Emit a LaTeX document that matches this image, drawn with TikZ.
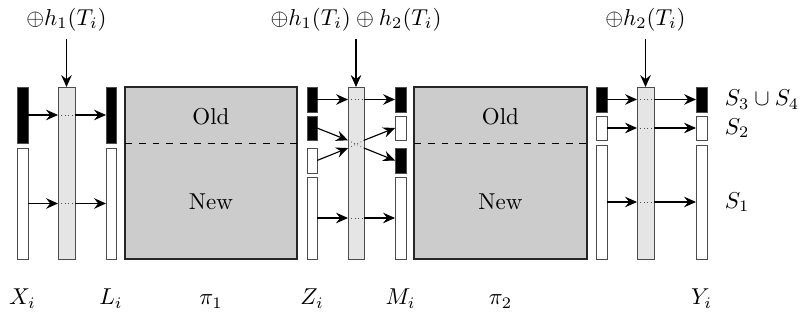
\documentclass[tikz,border=0pt]{standalone}
\usetikzlibrary{positioning,fit,arrows.meta,calc}

\begin{document}
\begin{tikzpicture}[
    x=0.153mm,
    y=-0.153mm,
    seg/.style={draw=black!70, inner sep=0pt, outer sep=0pt},
    on/.style={seg, fill=black},
    off/.style={seg, fill=white},
    hash/.style={seg, fill=black!10},
    perm/.style={draw=black!85, semithick, fill=black!20, inner sep=0pt, outer sep=0pt},
    arrow/.style={-{Stealth[length=5.2pt,width=4.6pt,inset=1.8pt]}, line width=0.5pt},
    link/.style={line width=0.3pt, dash pattern=on 0.4pt off 1.1pt, black!70},
    split/.style={dashed, semithick},
    lbl/.style={anchor=base}
]
\useasboundingbox (0,0) rectangle (804,323);

% ============================================================
% X_i -> h_1 -> L_i -> pi_1
% ============================================================
\node[on,  fit={(17,87)(28,143)}]   (xa) {};
\node[off, fit={(17,148)(28,259)}]  (xb) {};
\node[hash, fit={(58,87)(75,259)}]  (ha) {};
\node[on,  fit={(106,87)(116,143)}] (la) {};
\node[off, fit={(106,148)(116,259)}] (lb) {};
\node[perm, fit={(125,87)(297,259)}] (pa) {};

\draw[split] ($(pa.north west)!0.33!(pa.south west)$) -- ($(pa.north east)!0.33!(pa.south east)$);
\node (olda) at ($(pa.north)!0.17!(pa.south)$) {Old};
\node (newa) at ($(pa.north)!0.67!(pa.south)$) {New};

\node[above=7.3mm of ha] (ta) {$\oplus h_1(T_i)$};
\draw[arrow] (ta) -- (ha);

\draw[arrow] (xa) -- (xa -| ha.west);
\draw[link] (xa -| ha.west) -- (xa -| ha.east);
\draw[arrow] (xa -| ha.east) -- (la);
\draw[arrow] (xb) -- (xb -| ha.west);
\draw[link] (xb -| ha.west) -- (xb -| ha.east);
\draw[arrow] (xb -| ha.east) -- (lb);

% ============================================================
% Z_i -> h_1 + h_2 -> M_i -> pi_2
% ============================================================
\node[on,  fit={(307,87)(317,112)}]  (za) {};
\node[on,  fit={(307,116)(317,140)}] (zb) {};
\node[off, fit={(307,148)(317,173)}] (zc) {};
\node[off, fit={(307,177)(317,259)}] (zd) {};
\node[hash, fit={(348,87)(364,259)}] (hb) {};
\node[on,  fit={(395,87)(406,112)}]  (ma) {};
\node[off, fit={(395,116)(406,140)}] (mb) {};
\node[on,  fit={(395,148)(406,173)}] (mc) {};
\node[off, fit={(395,177)(406,259)}] (md) {};
\node[perm, fit={(414,87)(587,259)}] (pb) {};

\draw[split] ($(pb.north west)!0.33!(pb.south west)$) -- ($(pb.north east)!0.33!(pb.south east)$);
\node (oldb) at ($(pb.north)!0.17!(pb.south)$) {Old};
\node (newb) at ($(pb.north)!0.67!(pb.south)$) {New};

\node[above=7.3mm of hb] (tb) {$\oplus h_1(T_i) \oplus h_2(T_i)$};
\draw[arrow] (tb) -- (hb);

\draw[arrow] (za) -- (za -| hb.west);
\draw[link] (za -| hb.west) -- (za -| hb.east);
\draw[arrow] (za -| hb.east) -- (ma);
\draw[arrow] (zd) -- (zd -| hb.west);
\draw[link] (zd -| hb.west) -- (zd -| hb.east);
\draw[arrow] (zd -| hb.east) -- (md);

% black and white swap places
\coordinate (bin) at ($(hb.north west)!0.31!(hb.south west)$);
\coordinate (win) at ($(hb.north west)!0.355!(hb.south west)$);
\coordinate (wout) at ($(hb.north east)!0.31!(hb.south east)$);
\coordinate (bout) at ($(hb.north east)!0.355!(hb.south east)$);
\draw[arrow] (zb.east) -- (bin);
\draw[arrow] (zc.east) -- (win);
\draw[link] (bin) -- (bout);
\draw[link] (win) -- (wout);
\draw[arrow] (wout) -- (mb.west);
\draw[arrow] (bout) -- (mc.west);

% ============================================================
% h_2 -> Y_i
% ============================================================
\node[on,  fit={(596,87)(607,112)}]  (wa) {};
\node[off, fit={(596,116)(607,140)}] (wb) {};
\node[off, fit={(596,145)(607,259)}] (wc) {};
\node[hash, fit={(637,87)(654,259)}] (hc) {};
\node[on,  fit={(696,87)(707,112)}]  (ya) {};
\node[off, fit={(696,116)(707,140)}] (yb) {};
\node[off, fit={(696,145)(707,259)}] (yc) {};

\node[above=7.3mm of hc] (tc) {$\oplus h_2(T_i)$};
\draw[arrow] (tc) -- (hc);

\draw[arrow] (wa) -- (wa -| hc.west);
\draw[link] (wa -| hc.west) -- (wa -| hc.east);
\draw[arrow] (wa -| hc.east) -- (ya);
\draw[arrow] (wb) -- (wb -| hc.west);
\draw[link] (wb -| hc.west) -- (wb -| hc.east);
\draw[arrow] (wb -| hc.east) -- (yb);
\draw[arrow] (wc) -- (wc -| hc.west);
\draw[link] (wc -| hc.west) -- (wc -| hc.east);
\draw[arrow] (wc -| hc.east) -- (yc);

\node[right=1.5mm of ya] (sa) {$S_3 \cup S_4$};
\node[right=1.5mm of yb] (sb) {$S_2$};
\node[right=1.5mm of yc] (sc) {$S_1$};

% ============================================================
% names along the bottom
% ============================================================
\coordinate (base) at (0,305);
\node[lbl] (nx) at (xa |- base) {$X_i$};
\node[lbl] (nl) at (la |- base) {$L_i$};
\node[lbl] (npa) at (pa |- base) {$\pi_1$};
\node[lbl] (nz) at (za |- base) {$Z_i$};
\node[lbl] (nm) at (ma |- base) {$M_i$};
\node[lbl] (npb) at (pb |- base) {$\pi_2$};
\node[lbl] (ny) at (ya |- base) {$Y_i$};

\end{tikzpicture}
\end{document}
